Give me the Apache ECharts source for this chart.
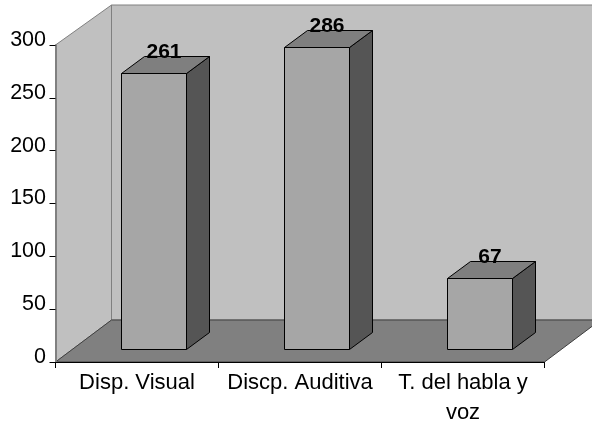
<!DOCTYPE html>
<html>
<head>
<meta charset="utf-8">
<style>html,body{margin:0;padding:0;background:#fff}#c{width:592px;height:424px}</style>
<script src="https://cdn.jsdelivr.net/npm/echarts@6/dist/echarts.min.js"></script>
</head>
<body>
<div id="c"></div>
<script>
const categories = ['Disp. Visual', 'Discp. Auditiva', 'T. del habla y\nvoz'];
const values = [261, 286, 67];
const yMax = 300;
const yStep = 50;

const FONT = '"Liberation Sans", Arial, sans-serif';
const snap = v => Math.round(v) + 0.5;

function poly(points, fill, stroke, z2) {
  return { type: 'polygon', z2: z2 || 0, shape: { points: points },
    style: { fill: fill, stroke: stroke, lineWidth: 1 } };
}

function renderScene(params, api) {
  const cs = params.coordSys;
  const L = cs.x, R = cs.x + cs.width, T = cs.y, B = cs.y + cs.height;
  const dx = 56, topRise = 40, floorRise = 42;
  return { type: 'group', children: [
    poly([[L + dx, T - topRise], [R + dx, T - topRise], [R + dx, B - floorRise], [L + dx, B - floorRise]], '#c0c0c0', '#808080'),
    poly([[L, T], [L + dx, T - topRise], [L + dx, B - floorRise], [L, B]], '#c0c0c0', '#808080'),
    poly([[L, B], [L + dx, B - floorRise], [R + dx, B - floorRise], [R, B]], '#808080', '#404040')
  ]};
}

function renderBar(params, api) {
  const band = api.size([1, 0])[0];
  const c = api.coord([api.value(0), api.value(1)]);
  const base = api.coord([api.value(0), 0]);
  const w = band * 0.4;
  const shiftX = 16.5, shiftY = 13;
  const ox = 23, oy = 17;
  const x0 = snap(c[0] - w / 2 + shiftX);
  const x1 = snap(c[0] + w / 2 + shiftX);
  const yT = snap(c[1] - shiftY);
  const yB = snap(base[1] - shiftY);
  const s = '#000';
  return { type: 'group', children: [
    poly([[x1, yT], [x1 + ox, yT - oy], [x1 + ox, yB - oy], [x1, yB]], '#555555', s),
    poly([[x0, yT], [x0 + ox, yT - oy], [x1 + ox, yT - oy], [x1, yT]], '#7f7f7f', s),
    poly([[x0, yT], [x1, yT], [x1, yB], [x0, yB]], '#a6a6a6', s),
    { type: 'text', z2: 5, style: {
        text: String(api.value(1)), x: (x0 + x1 + ox) / 2 - 1.5, y: yT - oy + 6.5,
        align: 'center', verticalAlign: 'bottom',
        font: 'bold 21px ' + FONT, fill: '#000' } }
  ]};
}

const chart = echarts.init(document.getElementById('c'), null, { renderer: 'canvas' });
chart.setOption({
  animation: false,
  backgroundColor: '#fff',
  grid: { left: 55.5, right: 47.5, top: 45, bottom: 62, containLabel: false, outerBoundsMode: 'none' },
  xAxis: {
    type: 'category', data: categories, z: 6,
    axisLine: { lineStyle: { color: '#000', width: 1 } },
    axisTick: { show: true, alignWithLabel: false, length: 6, lineStyle: { color: '#000' } },
    axisLabel: { color: '#000', fontFamily: FONT, fontSize: 22, margin: 6, lineHeight: 30, interval: 0 }
  },
  yAxis: {
    type: 'value', min: 0, max: yMax, interval: yStep, z: 6,
    axisLine: { show: true, lineStyle: { color: '#808080', width: 2 } },
    axisTick: { show: true, length: 6, lineStyle: { color: '#000' } },
    splitLine: { show: false },
    axisLabel: { color: '#000', fontFamily: FONT, fontSize: 21.5, margin: 9.5, verticalAlign: 'bottom', lineHeight: 10 }
  },
  series: [
    { type: 'custom', z: 1, silent: true, renderItem: renderScene, data: [[0, 0]] },
    { type: 'custom', z: 2, silent: true, renderItem: renderBar,
      encode: { x: 0, y: 1 },
      data: categories.map((c, i) => [i, values[i]]) }
  ]
});
</script>
</body>
</html>
